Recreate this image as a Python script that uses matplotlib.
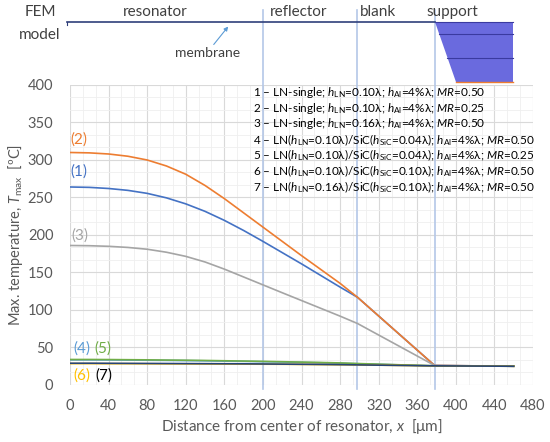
import matplotlib
matplotlib.use("Agg")
import matplotlib.pyplot as plt
from matplotlib.ticker import MultipleLocator, AutoMinorLocator
from matplotlib.patches import Polygon

plt.rcParams['font.family'] = ['Lato', 'DejaVu Sans']
plt.rcParams['mathtext.fontset'] = 'custom'
plt.rcParams['mathtext.rm'] = 'Lato'
plt.rcParams['mathtext.it'] = 'Lato:italic'

# distance from resonator centre [um]
x_curve = [0, 20, 40, 60, 80, 100, 120, 140, 160, 180, 200, 220, 240, 260, 280, 298, 378, 460]

t1 = [264, 263.5, 262, 259.5, 255.5, 249.5, 241.5, 231.5, 219.5, 206, 191.5, 176.5, 161.5, 146, 130.5, 117, 26, 25]
t2 = [310, 309.5, 308, 305, 300, 292, 281, 266, 248.5, 229.5, 210.5, 191.5, 172.5, 154, 135.5, 117, 26, 25]
t3 = [186, 185.7, 184.9, 183.4, 181, 177, 171.5, 164, 154.5, 144, 133.5, 123, 112.6, 102.2, 91.8, 82, 26, 25]
t4 = [33.5, 33.5, 33.4, 33.2, 33, 32.8, 32.5, 32.2, 31.8, 31.5, 31, 30.6, 30.1, 29.6, 29, 28.3, 25.5, 25]
t5 = [34, 34, 33.9, 33.7, 33.5, 33.2, 33, 32.7, 32.3, 31.9, 31.5, 31, 30.5, 30, 29.4, 28.6, 25.5, 25]
t6 = [28.5, 28.5, 28.4, 28.4, 28.3, 28.2, 28.1, 28, 27.9, 27.8, 27.7, 27.6, 27.4, 27.2, 27, 26.8, 25.5, 25]
t7 = [29, 29, 28.9, 28.8, 28.7, 28.6, 28.5, 28.4, 28.3, 28.2, 28, 27.8, 27.6, 27.4, 27.1, 26.8, 25.5, 25]

series = [t1, t2, t3, t4, t5, t6, t7]
colors = ['#4472C4', '#ED7D31', '#A5A5A5', '#5B9BD5', '#70AD47', '#FFC000', '#264478']

legend_lines = [
    r"1 – LN-single; $h_{\mathrm{LN}}$=0.10λ; $h_{\mathrm{Al}}$=4%λ; $MR$=0.50",
    r"2 – LN-single; $h_{\mathrm{LN}}$=0.10λ; $h_{\mathrm{Al}}$=4%λ; $MR$=0.25",
    r"3 – LN-single; $h_{\mathrm{LN}}$=0.16λ; $h_{\mathrm{Al}}$=4%λ; $MR$=0.50",
    r"4 – LN($h_{\mathrm{LN}}$=0.10λ)/SiC($h_{\mathrm{SiC}}$=0.04λ); $h_{\mathrm{Al}}$=4%λ; $MR$=0.50",
    r"5 – LN($h_{\mathrm{LN}}$=0.10λ)/SiC($h_{\mathrm{SiC}}$=0.04λ); $h_{\mathrm{Al}}$=4%λ; $MR$=0.25",
    r"6 – LN($h_{\mathrm{LN}}$=0.10λ)/SiC($h_{\mathrm{SiC}}$=0.10λ); $h_{\mathrm{Al}}$=4%λ; $MR$=0.50",
    r"7 – LN($h_{\mathrm{LN}}$=0.16λ)/SiC($h_{\mathrm{SiC}}$=0.10λ); $h_{\mathrm{Al}}$=4%λ; $MR$=0.50",
]

# region boundaries and labels of the FEM model strip
boundaries = [200, 298, 378]
regions = ["resonator", "reflector", "blank", "support"]
region_x = [88, 237, 319, 396]

# curve tags: text, x, y, colour
tags = [("(2)", 0, 327, '#ED7D31'), ("(1)", 0, 285, '#4472C4'), ("(3)", 1, 199, '#A5A5A5'),
        ("(4)", 4, 48, '#5B9BD5'), ("(5)", 25, 48, '#70AD47'),
        ("(6)", 4, 13, '#FFC000'), ("(7)", 26, 13, 'black')]

fig = plt.figure(figsize=(5.5, 4.42), dpi=100)
ax = fig.add_axes([0.1273, 0.129, 0.8418, 0.6787])

for t, c in zip(series, colors):
    ax.plot(x_curve, t, color=c, lw=1.2, zorder=3)

ax.set_xlim(0, 480)
ax.set_ylim(0, 400)
ax.xaxis.set_major_locator(MultipleLocator(40))
ax.yaxis.set_major_locator(MultipleLocator(50))
ax.xaxis.set_minor_locator(AutoMinorLocator(3))
ax.yaxis.set_minor_locator(AutoMinorLocator(3))
ax.grid(which='major', color='#d9d9d9', lw=0.8)
ax.grid(which='minor', color='#efefef', lw=0.6)
ax.set_axisbelow(True)
for s in ax.spines.values():
    s.set_visible(False)
ax.tick_params(which='both', length=0, labelsize=10.5, labelcolor='#595959')
ax.tick_params(axis='y', pad=12)
ax.tick_params(axis='x', pad=10)
ax.set_xlabel(r"Distance from center of resonator, $x$  [μm]", fontsize=11, color='#595959', labelpad=3)
ax.set_ylabel(r"Max. temperature, $T_{\mathrm{max}}$  [ºC]", fontsize=10.5, color='#595959', labelpad=2)

# FEM model strip above the plot
for b in boundaries:
    ax.plot([b, b], [-5, 500], color='#b4c7e7', lw=1.2, clip_on=False, zorder=2)
ax.plot([-3, 378], [484, 484], color='#2f3f7a', lw=1.2, clip_on=False, zorder=4)
ax.plot([-3, -3], [484, 480], color='#2f3f7a', lw=0.8, clip_on=False)
sup = Polygon([(378, 484), (459, 484), (459, 404), (400, 404)], closed=True,
              facecolor='#6a6ade', edgecolor='none', clip_on=False, zorder=4)
ax.add_patch(sup)
for yy in [484, 468, 436]:
    x_left = 378 + (484 - yy) / 80 * 22
    ax.plot([x_left, 459], [yy, yy], color='#3a3aa0', lw=0.8, clip_on=False, zorder=5)
ax.plot([400, 459], [404, 404], color='#ED7D31', lw=1.0, clip_on=False, zorder=5)
for name, xr in zip(regions, region_x):
    ax.text(xr, 497, name, ha='center', va='center', fontsize=11, color='#404040')
ax.text(-31, 497, "FEM", ha='center', va='center', fontsize=11, color='#404040')
ax.text(-31, 466, "model", ha='center', va='center', fontsize=11, color='#404040')
ax.text(143, 443, "membrane", ha='center', va='center', fontsize=10, color='#404040')
ax.annotate("", xy=(164, 478), xytext=(149, 454), annotation_clip=False,
            arrowprops=dict(arrowstyle='-|>', color='#5b9bd5', lw=0.8,
                            mutation_scale=6, shrinkA=0, shrinkB=0))

for i, line in enumerate(legend_lines):
    ax.text(190, 390 - i * 21, line, ha='left', va='center', fontsize=8.5, color='black')

for txt, xt, yt, c in tags:
    ax.text(xt, yt, txt, ha='left', va='center', fontsize=11, color=c)

fig.savefig("out.png", dpi=100)
